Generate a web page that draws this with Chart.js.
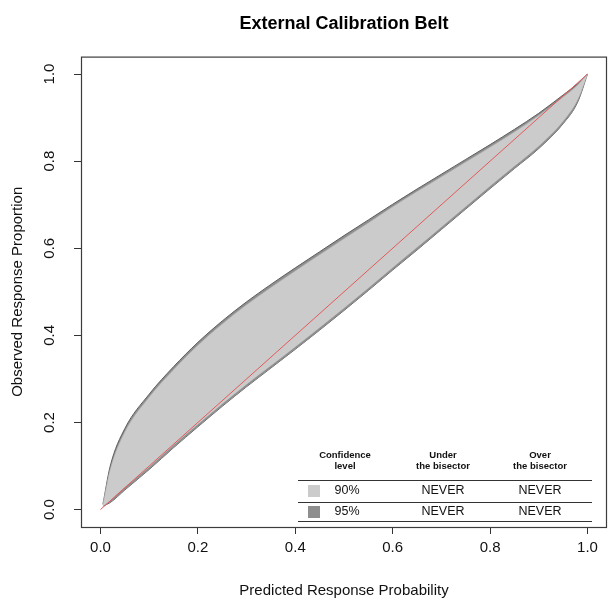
<!DOCTYPE html>
<html>
<head>
<meta charset="utf-8">
<script src="https://cdn.jsdelivr.net/npm/chart.js@4/dist/chart.umd.min.js"></script>
<style>
  html, body { margin: 0; padding: 0; background: #fff; }
  #wrap { width: 608px; height: 602px; }
</style>
</head>
<body>
<div id="wrap"><canvas id="belt"></canvas></div>
<script>
// Calibration belt data
const predicted = [0.005, 0.02, 0.05, 0.1, 0.15, 0.2, 0.25, 0.3, 0.35, 0.4, 0.45, 0.5, 0.55, 0.6, 0.65, 0.7, 0.75, 0.8, 0.85, 0.9, 0.95, 0.98, 1.0];
const upper95 = [0.012, 0.100, 0.186, 0.265, 0.328, 0.384, 0.433, 0.477, 0.517, 0.555, 0.592, 0.629, 0.665, 0.701, 0.736, 0.770, 0.804, 0.838, 0.873, 0.910, 0.952, 0.978, 1.0];
const upper90 = [0.012, 0.092, 0.178, 0.258, 0.321, 0.377, 0.426, 0.470, 0.510, 0.548, 0.585, 0.622, 0.658, 0.695, 0.730, 0.764, 0.798, 0.832, 0.867, 0.905, 0.947, 0.975, 1.0];
const lower90 = [0.008, 0.021, 0.051, 0.098, 0.148, 0.196, 0.243, 0.288, 0.331, 0.374, 0.418, 0.463, 0.509, 0.556, 0.602, 0.649, 0.696, 0.743, 0.789, 0.835, 0.892, 0.942, 1.0];
const lower95 = [0.008, 0.016, 0.045, 0.092, 0.142, 0.190, 0.237, 0.282, 0.325, 0.368, 0.412, 0.457, 0.503, 0.550, 0.596, 0.643, 0.690, 0.737, 0.783, 0.829, 0.886, 0.936, 1.0];
const bisectorX = [0, 1];

const xTicks = [0, 0.2, 0.4, 0.6, 0.8, 1.0];
const yTicks = [0, 0.2, 0.4, 0.6, 0.8, 1.0];

// Legend table
const tableHeaders = [["Confidence", "level"], ["Under", "the bisector"], ["Over", "the bisector"]];
const confLevels = ["90%", "95%"];
const underBisector = ["NEVER", "NEVER"];
const overBisector = ["NEVER", "NEVER"];

const FONT = "'Liberation Sans', Arial, Helvetica, sans-serif";
const LIGHT = "#cbcbcb";
const DARK = "#8e8e8e";

Chart.defaults.font.family = FONT;
Chart.defaults.color = "#111";

function toPoints(xs, ys) {
    return xs.map((x, i) => ({ x: x, y: ys[i] }));
}

// box round the plot + the small confidence table
const boxAndTable = {
    id: "boxAndTable",
    afterDraw(chart) {
        const { ctx, chartArea: a } = chart;
        ctx.save();
        ctx.strokeStyle = "#3c3c3c";
        ctx.lineWidth = 1.2;
        ctx.strokeRect(a.left + 0.5, a.top + 0.5, a.right - a.left - 1, a.bottom - a.top);

        const cols = [a.right - 262, a.right - 164, a.right - 67];
        const x0 = a.right - 309, x1 = a.right - 15;

        ctx.fillStyle = "#111";
        ctx.textAlign = "center";
        ctx.textBaseline = "middle";
        ctx.font = "bold 9.5px " + FONT;
        tableHeaders.forEach((h, i) => {
            ctx.fillText(h[0], cols[i], a.bottom - 72);
            ctx.fillText(h[1], cols[i], a.bottom - 61);
        });

        ctx.strokeStyle = "#333";
        ctx.lineWidth = 1;
        [a.bottom - 47, a.bottom - 25, a.bottom - 6].forEach(y => {
            ctx.beginPath();
            ctx.moveTo(x0, y + 0.5);
            ctx.lineTo(x1, y + 0.5);
            ctx.stroke();
        });

        const rowY = [a.bottom - 36, a.bottom - 15];
        const swatch = [LIGHT, DARK];
        ctx.font = "12.5px " + FONT;
        confLevels.forEach((lvl, i) => {
            ctx.fillStyle = swatch[i];
            ctx.fillRect(x0 + 10, rowY[i] - 6, 12, 12);
            ctx.fillStyle = "#111";
            ctx.fillText(lvl, cols[0] + 2, rowY[i]);
            ctx.fillText(underBisector[i], cols[1], rowY[i]);
            ctx.fillText(overBisector[i], cols[2], rowY[i]);
        });
        ctx.restore();
    }
};

const axisGrid = {
    drawOnChartArea: false,
    drawTicks: true,
    tickLength: 7,
    color: "#333",
    tickColor: "#333"
};

new Chart(document.getElementById("belt"), {
    type: "line",
    data: {
        datasets: [
            {
                label: "95% upper",
                data: toPoints(predicted, upper95),
                borderColor: "#5e5e5e",
                borderWidth: 1,
                backgroundColor: DARK,
                fill: "+1",
                order: 2
            },
            {
                label: "95% lower",
                data: toPoints(predicted, lower95),
                borderColor: "#5e5e5e",
                borderWidth: 1,
                fill: false,
                order: 2
            },
            {
                label: "90% upper",
                data: toPoints(predicted, upper90),
                borderColor: "#b5b5b5",
                borderWidth: 0.6,
                backgroundColor: LIGHT,
                fill: "+1",
                order: 1
            },
            {
                label: "90% lower",
                data: toPoints(predicted, lower90),
                borderColor: "#b5b5b5",
                borderWidth: 0.6,
                fill: false,
                order: 1
            },
            {
                label: "Bisector",
                data: toPoints(bisectorX, bisectorX),
                borderColor: "#e35a5a",
                borderWidth: 1,
                fill: false,
                order: 0
            }
        ]
    },
    options: {
        responsive: true,
        maintainAspectRatio: false,
        animation: false,
        elements: {
            point: { radius: 0 },
            line: { cubicInterpolationMode: "monotone" }
        },
        layout: { padding: { left: 0, right: 1, top: 0, bottom: 0 } },
        plugins: {
            legend: { display: false },
            tooltip: { enabled: false },
            title: {
                display: true,
                fullSize: false,
                text: "External Calibration Belt",
                color: "#000",
                font: { size: 18, weight: "bold", family: FONT },
                padding: { top: 13, bottom: 22 }
            }
        },
        scales: {
            x: {
                type: "linear",
                min: -0.04,
                max: 1.04,
                afterBuildTicks: s => { s.ticks = xTicks.map(v => ({ value: v })); },
                afterFit: s => { s.height = 75; },
                grid: axisGrid,
                border: { display: false },
                ticks: {
                    font: { size: 15 },
                    color: "#111",
                    padding: 5,
                    maxRotation: 0,
                    callback: v => v.toFixed(1)
                },
                title: {
                    display: true,
                    text: "Predicted Response Probability",
                    color: "#111",
                    font: { size: 15 },
                    padding: { top: 0, bottom: 2 }
                }
            },
            y: {
                type: "linear",
                min: -0.04,
                max: 1.04,
                afterBuildTicks: s => { s.ticks = yTicks.map(v => ({ value: v })); },
                afterFit: s => { s.width = 81; },
                grid: axisGrid,
                border: { display: false },
                ticks: {
                    font: { size: 15 },
                    color: "#111",
                    padding: 14,
                    minRotation: 90,
                    maxRotation: 90,
                    crossAlign: "center",
                    callback: v => v.toFixed(1)
                },
                title: {
                    display: true,
                    text: "Observed Response Proportion",
                    color: "#111",
                    font: { size: 15 },
                    padding: { top: 9, bottom: 0 }
                }
            }
        }
    },
    plugins: [boxAndTable]
});
</script>
</body>
</html>
